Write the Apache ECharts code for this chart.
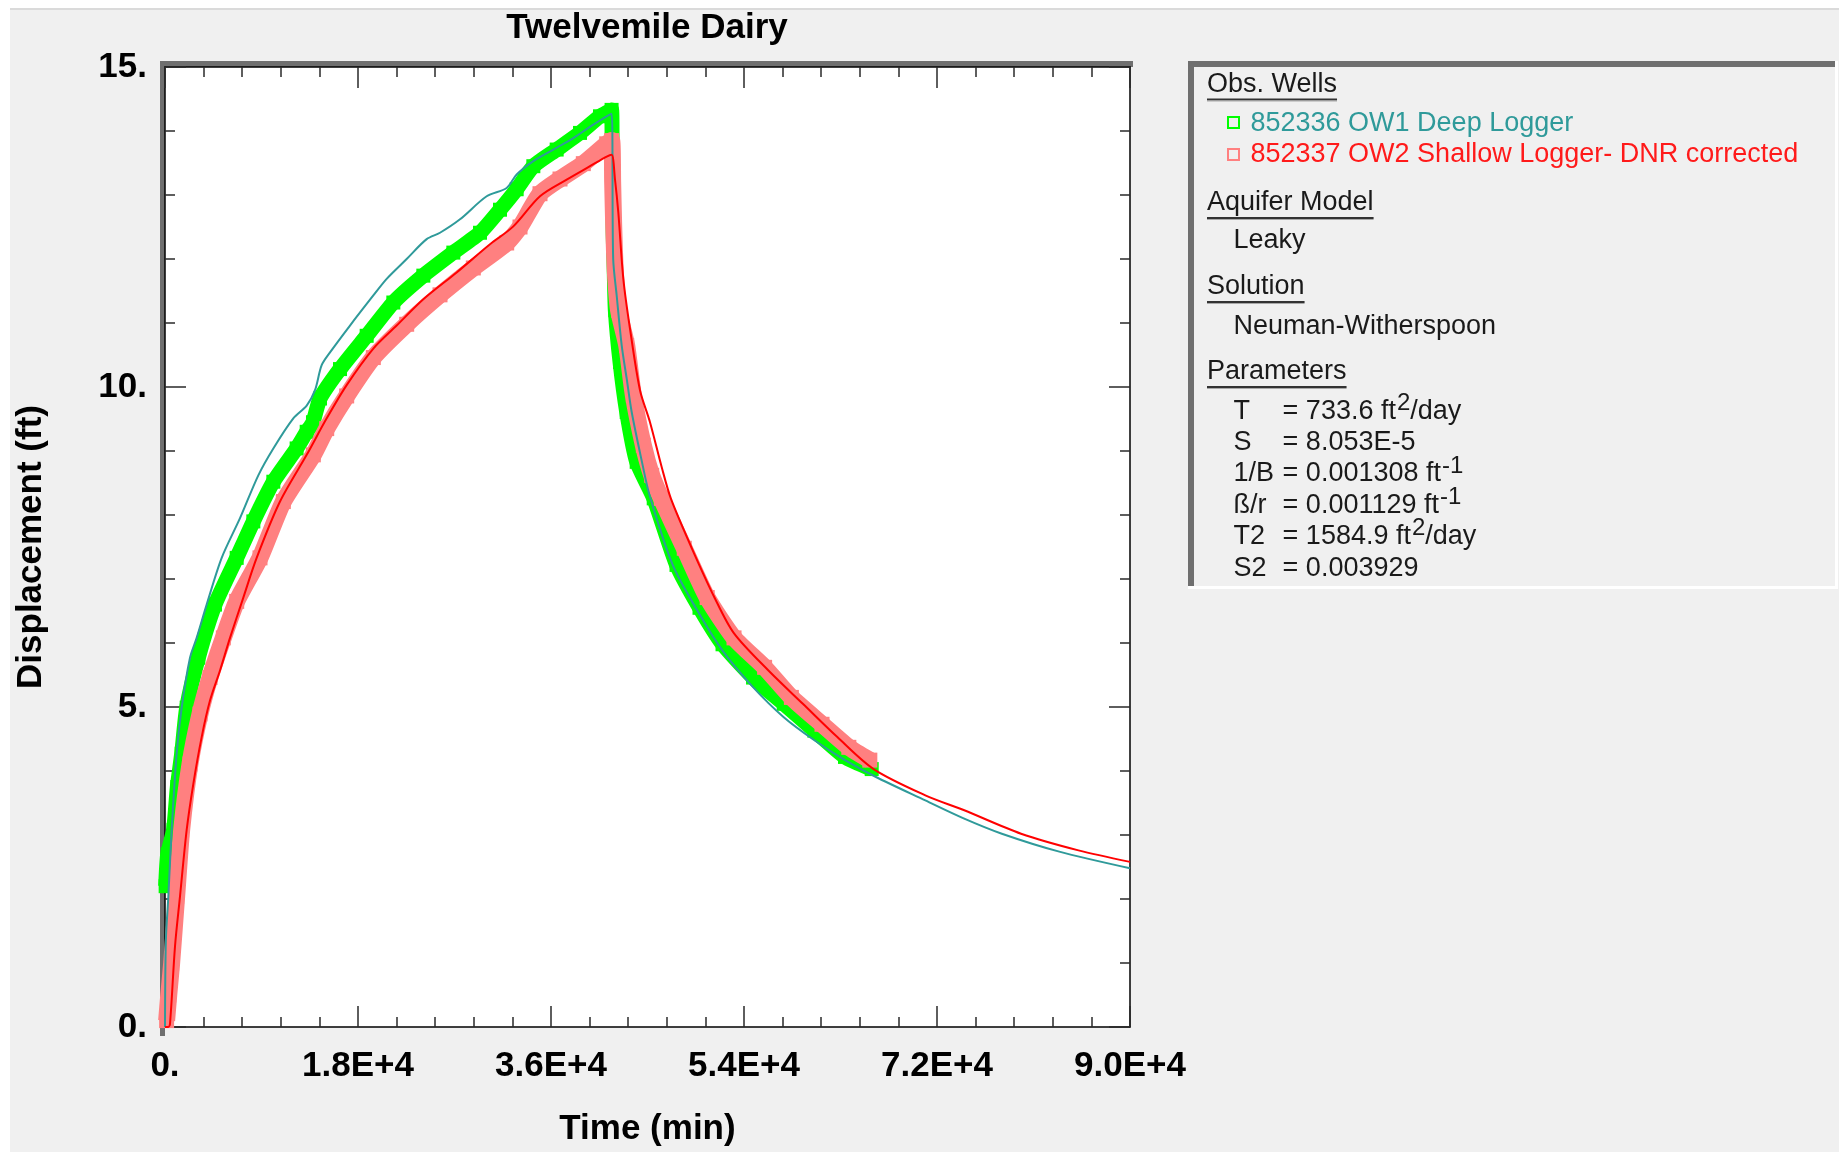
<!DOCTYPE html>
<html><head><meta charset="utf-8">
<script src="https://cdn.jsdelivr.net/npm/echarts@6/dist/echarts.min.js"></script>
<style>html,body{margin:0;padding:0;background:#fff;}#c{width:1845px;height:1152px;}</style>
</head><body><div id="c"></div>
<script>
// ---------- data ----------
const chartTitle = 'Twelvemile Dairy';
const xAxisName = 'Time (min)';
const yAxisName = 'Displacement (ft)';
const xTickLabels = ['0.', '1.8E+4', '3.6E+4', '5.4E+4', '7.2E+4', '9.0E+4'];
const yTickLabels = ['0.', '5.', '10.', '15.'];

// Observed: 852336 OW1 Deep Logger
const ow1ObsTime = [60, 250, 800, 1150, 1555, 2022, 3109, 4664, 6686, 8238, 10104, 12277, 13215, 13800, 14456, 16321, 18808, 21295, 24093, 26891, 29378, 31244, 32798, 34352, 36529, 38705, 40570, 41650, 41700, 41750, 41800, 41900, 42000, 42437, 43059, 43991, 45580, 47706, 49850, 51998, 54843, 57707, 60562, 63420, 65911];
const ow1ObsDisp = [2.2, 2.7, 3.08, 3.75, 4.27, 4.99, 5.77, 6.60, 7.33, 7.90, 8.52, 9.04, 9.30, 9.45, 9.82, 10.28, 10.80, 11.32, 11.74, 12.10, 12.41, 12.77, 13.09, 13.45, 13.71, 13.97, 14.23, 14.33, 13.7, 13.0, 12.4, 11.8, 11.2, 10.39, 9.61, 8.83, 8.26, 7.22, 6.55, 5.98, 5.46, 5.05, 4.63, 4.22, 4.03];

// Observed: 852337 OW2 Shallow Logger- DNR corrected
const ow2ObsTime = [150, 350, 622, 1088, 1555, 2332, 3264, 4197, 5440, 6686, 8860, 11037, 13835, 15080, 16943, 19430, 22539, 25648, 28756, 31866, 33109, 34974, 36840, 39015, 41194, 41650, 41750, 41850, 42000, 42300, 43059, 43680, 44613, 45390, 46283, 48428, 50570, 53071, 55922, 58420, 61277, 63778, 65736];
const ow2ObsDisp = [0.1, 0.5, 1.0, 2.04, 3.08, 4.11, 4.89, 5.46, 6.08, 6.65, 7.33, 8.21, 8.94, 9.35, 9.86, 10.46, 10.98, 11.44, 11.86, 12.25, 12.50, 13.02, 13.25, 13.49, 13.80, 13.85, 13.2, 12.5, 11.8, 11.2, 10.65, 9.87, 9.09, 8.62, 8.26, 7.48, 6.71, 6.08, 5.62, 5.15, 4.73, 4.37, 4.17];

// Model curve OW1
const ow1FitTime = [0, 80, 311, 622, 1088, 1555, 2332, 2954, 3886, 5288, 6995, 8703, 10104, 11966, 13215, 13990, 14612, 15389, 17254, 19430, 20674, 22539, 24404, 25648, 27513, 30000, 31866, 32798, 34352, 36218, 38083, 39948, 41650, 41800, 42126, 42593, 43059, 43525, 44457, 45206, 47352, 49499, 51998, 54843, 57707, 60562, 63420, 66266, 70912, 74485, 78047, 83402, 90000];
const ow1FitDisp = [0, 1.35, 2.04, 3.08, 4.27, 4.99, 5.77, 6.08, 6.60, 7.33, 7.95, 8.62, 9.04, 9.51, 9.71, 9.95, 10.34, 10.54, 10.96, 11.43, 11.69, 12.00, 12.31, 12.41, 12.62, 12.98, 13.11, 13.32, 13.53, 13.71, 13.89, 14.10, 14.27, 12.0, 11.43, 10.65, 10.13, 9.61, 8.85, 8.30, 7.22, 6.55, 5.88, 5.31, 4.84, 4.48, 4.17, 3.91, 3.54, 3.26, 3.02, 2.74, 2.48];

// Model curve OW2
const ow2FitTime = [0, 300, 466, 933, 1399, 2022, 2643, 3420, 4197, 5130, 6062, 7305, 8549, 10726, 13215, 15080, 16943, 19430, 21606, 24093, 27202, 30311, 32487, 34974, 37461, 39637, 41194, 41650, 41970, 42281, 42747, 43368, 44301, 45233, 46321, 47176, 49135, 51280, 53071, 56280, 59489, 62705, 66088, 70912, 74485, 79838, 85192, 90000];
const ow2FitDisp = [0, 0, 0.05, 1.26, 2.04, 3.08, 3.80, 4.53, 5.10, 5.57, 6.08, 6.71, 7.33, 8.21, 8.94, 9.51, 10.03, 10.60, 10.96, 11.37, 11.79, 12.23, 12.51, 12.98, 13.24, 13.45, 13.60, 13.63, 13.24, 12.72, 11.69, 10.91, 9.95, 9.45, 8.75, 8.26, 7.48, 6.70, 6.15, 5.57, 5.05, 4.53, 4.03, 3.62, 3.39, 3.02, 2.76, 2.58];

// Info panel texts
const wellNames = ['852336 OW1 Deep Logger', '852337 OW2 Shallow Logger- DNR corrected'];
const panelHeaders = ['Obs. Wells', 'Aquifer Model', 'Solution', 'Parameters'];
const aquiferModel = 'Leaky';
const solutionName = 'Neuman-Witherspoon';
const paramNames = ['T', 'S', '1/B', '\u00df/r', 'T2', 'S2'];
const paramValues = ['= 733.6 ft', '= 8.053E-5', '= 0.001308 ft', '= 0.001129 ft', '= 1584.9 ft', '= 0.003929'];
const paramSups = ['2', '', '-1', '-1', '2', ''];
const paramTails = ['/day', '', '', '', '/day', ''];

// ---------- helpers ----------
const FONT = '"Liberation Sans", Arial, sans-serif';
const mctx = document.createElement('canvas').getContext('2d');
function tw(s, size, weight) { mctx.font = (weight || 'normal') + ' ' + size + 'px ' + FONT; return mctx.measureText(s).width; }
const zip = (t, v) => t.map((x, i) => [x, v[i]]);
const C_TEAL = '#2f9a9a', C_RED = '#ff0000', C_GREEN = '#00ff00', C_PINK = '#ff8080';
const TXT = '#1a1a1a';
const PS = 27;
function ptext(x, baseline, s, fill, size, weight) {
  size = size || PS;
  return { type: 'text', x: x, y: baseline - 0.3465 * size, silent: true,
    style: { text: s, fill: fill || TXT, font: (weight || 'normal') + ' ' + size + 'px ' + FONT, align: 'left', verticalAlign: 'middle' } };
}
function rect(x, y, w, h, fill) { return { type: 'rect', silent: true, shape: { x: x, y: y, width: w, height: h }, style: { fill: fill } }; }

// ---------- graphic ----------
const G = [];
G.push(rect(0, 0, 10, 1152, '#ffffff'));
G.push(rect(0, 0, 1845, 8, '#ffffff'));
G.push(rect(1839, 0, 6, 1152, '#ffffff'));
G.push(rect(10, 8, 1829, 2, '#dadada'));
G.push(rect(160, 61, 973, 6, '#6f6f6f'));
G.push(rect(160, 61, 5, 975, '#6f6f6f'));
G.push({ type: 'text', x: 647, y: 28, silent: true, style: { text: chartTitle, fill: '#000', font: 'bold 35px ' + FONT, align: 'center', verticalAlign: 'middle' } });
G.push(rect(1188, 61, 650, 528, '#f0f0f0'));
G.push(rect(1188, 61, 647, 6, '#6f6f6f'));
G.push(rect(1188, 61, 6, 528, '#6f6f6f'));
G.push(rect(1835, 61, 3, 528, '#ffffff'));
G.push(rect(1188, 586, 650, 3, '#ffffff'));
const headerBase = [93.6, 212, 296, 381];
panelHeaders.forEach((h, i) => {
  G.push(ptext(1207, headerBase[i], h, TXT));
  const w = tw(h, PS);
  G.push(rect(1207, headerBase[i] + 5, w, 2, '#333333'));
  G.push(rect(1207, headerBase[i] + 7, w, 1, '#a8a8a8'));
});
G.push({ type: 'rect', silent: true, shape: { x: 1228, y: 117, width: 11, height: 11 }, style: { fill: 'none', stroke: C_GREEN, lineWidth: 2 } });
G.push({ type: 'rect', silent: true, shape: { x: 1228, y: 149, width: 11, height: 11 }, style: { fill: 'none', stroke: C_PINK, lineWidth: 2 } });
G.push(ptext(1250.5, 132.6, wellNames[0], C_TEAL));
G.push(ptext(1250.5, 163.6, wellNames[1], '#ff1a1a'));
G.push(ptext(1233.4, 250, aquiferModel, TXT));
G.push(ptext(1233.4, 336, solutionName, TXT));
paramNames.forEach((n, i) => {
  const b = 420.5 + 31.4 * i;
  G.push(ptext(1233.4, b, n, TXT));
  G.push(ptext(1282.6, b, paramValues[i], TXT));
  let x = 1282.6 + tw(paramValues[i], PS);
  if (paramSups[i]) {
    x += 1;
    G.push(ptext(x, b - 9, paramSups[i], TXT, 24));
    x += tw(paramSups[i], 24);
  }
  if (paramTails[i]) G.push(ptext(x, b, paramTails[i], TXT));
});

// ---------- chart ----------
const axisLineStyle = { color: '#000', width: 1.5 };
const tickStyle = { color: '#2a2a2a', width: 1.5 };
const labelStyle = { fontSize: 35, fontWeight: 'bold', color: '#000', fontFamily: FONT };
function xAxisCfg(pos, showLabel) {
  return {
    type: 'value', position: pos, min: 0, max: 90000, interval: 18000,
    axisLine: { show: true, onZero: false, lineStyle: axisLineStyle },
    axisTick: { show: true, inside: true, length: 21, lineStyle: tickStyle },
    minorTick: { show: true, splitNumber: 5, length: 10, lineStyle: tickStyle },
    splitLine: { show: false }, minorSplitLine: { show: false },
    axisLabel: { show: showLabel, margin: 22, formatter: v => xTickLabels[Math.round(v / 18000)], ...labelStyle },
    name: showLabel ? xAxisName : '', nameLocation: 'middle', nameGap: 85,
    nameTextStyle: { ...labelStyle }
  };
}
function yAxisCfg(pos, showLabel) {
  return {
    type: 'value', position: pos, min: 0, max: 15, interval: 5,
    axisLine: { show: true, onZero: false, lineStyle: axisLineStyle },
    axisTick: { show: true, inside: true, length: 21, lineStyle: tickStyle },
    minorTick: { show: true, splitNumber: 5, length: 10, lineStyle: tickStyle },
    splitLine: { show: false }, minorSplitLine: { show: false },
    axisLabel: { show: showLabel, margin: 18, formatter: v => yTickLabels[Math.round(v / 5)], ...labelStyle },
    name: showLabel ? yAxisName : '', nameLocation: 'middle', nameGap: 116,
    nameTextStyle: { ...labelStyle }
  };
}

const chart = echarts.init(document.getElementById('c'), null, { renderer: 'canvas' });
chart.setOption({
  animation: false,
  backgroundColor: '#f0f0f0',
  textStyle: { fontFamily: FONT },
  grid: { left: 165, top: 67, width: 965, height: 964, show: true, backgroundColor: '#ffffff', borderWidth: 0, containLabel: false },
  xAxis: [xAxisCfg('bottom', true), xAxisCfg('top', false)],
  yAxis: [yAxisCfg('left', true), yAxisCfg('right', false)],
  graphic: { elements: G },
  series: [
    { name: wellNames[0], type: 'line', xAxisIndex: 0, yAxisIndex: 0, data: zip(ow1ObsTime, ow1ObsDisp),
      smooth: 0.2,
      symbol: 'rect', symbolSize: 14, showAllSymbol: true, itemStyle: { color: C_GREEN },
      lineStyle: { color: C_GREEN, width: 15, join: 'round' }, z: 2 },
    { name: wellNames[1], type: 'line', xAxisIndex: 0, yAxisIndex: 0, data: zip(ow2ObsTime, ow2ObsDisp),
      smooth: 0.2,
      symbol: 'rect', symbolSize: 15, showAllSymbol: true, itemStyle: { color: C_PINK },
      lineStyle: { color: C_PINK, width: 17, join: 'round' }, z: 3 },
    { name: 'OW1 fit', type: 'line', xAxisIndex: 0, yAxisIndex: 0, data: zip(ow1FitTime, ow1FitDisp),
      smooth: 0.3,
      symbol: 'none', lineStyle: { color: C_TEAL, width: 2 }, z: 4 },
    { name: 'OW2 fit', type: 'line', xAxisIndex: 0, yAxisIndex: 0, data: zip(ow2FitTime, ow2FitDisp),
      smooth: 0.3,
      symbol: 'none', lineStyle: { color: C_RED, width: 2 }, z: 5 }
  ]
});
</script>
</body></html>
